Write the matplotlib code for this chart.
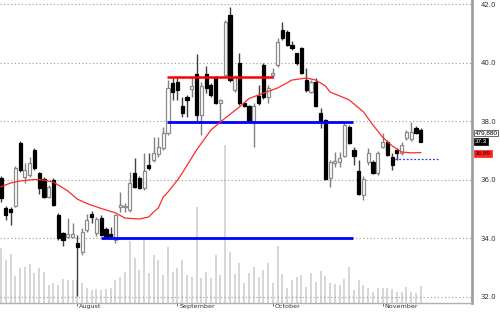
import matplotlib
matplotlib.use('Agg')
import matplotlib.pyplot as plt
from matplotlib.transforms import blended_transform_factory

# ---- data ----
opens = [36.05, 35.03, 34.99, 35.09, 37.25, 36.09, 36.15, 37.01, 36.22, 36.02,
         35.40, 35.98, 34.79, 34.17, 34.03, 34.03, 33.83, 33.52, 34.27, 34.82,
         34.17, 34.68, 34.31, 34.14, 33.93, 35.06, 35.05, 34.96, 36.22, 36.05,
         35.71, 36.50, 36.67, 36.87, 37.08, 37.59, 39.30, 39.33, 38.51, 38.82,
         39.09, 39.61, 38.21, 39.61, 39.23, 39.50, 38.62, 39.57, 41.62, 39.06,
         39.98, 38.62, 38.51, 38.00, 38.86, 39.91, 38.82, 39.57, 39.91, 41.11,
         41.04, 40.60, 40.33, 40.50, 39.40, 38.99, 39.33, 38.27, 38.03, 36.05,
         36.56, 36.60, 36.80, 37.80, 37.01, 36.29, 35.47, 36.60, 36.60, 36.22,
         37.11, 37.28, 36.77, 37.01, 36.91, 37.42, 37.39, 37.76, 37.69]
highs = [36.12, 35.09, 35.06, 36.46, 37.32, 36.56, 36.77, 37.08, 36.26, 36.09,
         35.81, 36.05, 34.86, 34.20, 34.68, 34.51, 34.10, 34.34, 34.82, 34.92,
         34.72, 34.79, 34.37, 34.37, 34.82, 35.57, 35.20, 36.26, 36.74, 36.12,
         36.91, 36.91, 37.45, 37.45, 37.80, 39.40, 39.47, 39.50, 38.82, 38.89,
         39.50, 40.29, 39.33, 39.88, 39.30, 39.54, 38.75, 41.45, 41.90, 39.57,
         40.33, 38.65, 38.55, 38.62, 39.23, 39.98, 39.23, 39.81, 40.84, 41.39,
         41.11, 40.74, 40.33, 40.53, 39.81, 39.40, 39.47, 38.44, 38.07, 36.67,
         36.94, 36.94, 37.93, 37.86, 37.11, 36.67, 36.12, 37.08, 36.67, 36.97,
         37.59, 37.35, 36.91, 37.08, 37.28, 37.69, 37.97, 37.83, 37.76]
lows = [35.23, 34.62, 34.43, 35.06, 36.26, 35.88, 36.09, 36.32, 35.50, 35.37,
        35.37, 35.09, 33.93, 33.73, 34.00, 34.00, 32.02, 33.42, 34.20, 34.51,
        34.07, 34.07, 34.00, 34.00, 33.83, 34.89, 34.89, 34.89, 35.71, 35.68,
        35.64, 36.32, 36.60, 36.77, 37.01, 37.52, 38.72, 38.72, 38.14, 38.14,
        38.82, 37.97, 37.52, 38.96, 38.82, 38.58, 37.97, 39.50, 39.33, 38.99,
        38.55, 38.48, 37.97, 37.11, 38.55, 38.75, 38.62, 39.47, 39.85, 40.77,
        40.56, 40.43, 39.91, 39.61, 38.99, 38.96, 38.48, 37.76, 35.98, 35.74,
        36.43, 36.43, 36.77, 37.21, 36.50, 35.47, 35.30, 36.50, 36.19, 36.15,
        37.08, 36.80, 36.32, 36.67, 36.84, 37.35, 37.32, 37.56, 37.28]
closes = [35.37, 34.79, 34.89, 36.39, 36.32, 36.32, 36.56, 36.39, 35.71, 35.40,
          35.74, 35.13, 34.00, 33.93, 34.14, 34.14, 33.69, 34.20, 34.62, 34.72,
          34.65, 34.10, 34.03, 34.07, 34.79, 35.13, 35.09, 35.88, 35.74, 35.71,
          36.29, 36.39, 36.91, 37.11, 37.59, 39.13, 38.99, 39.06, 38.27, 38.72,
          39.20, 38.21, 39.20, 39.13, 38.89, 38.62, 38.72, 41.39, 39.40, 39.50,
          38.62, 38.51, 38.00, 38.51, 38.62, 38.82, 39.13, 39.64, 40.70, 40.84,
          40.60, 40.50, 39.98, 39.64, 39.06, 39.33, 38.51, 37.97, 36.02, 36.60,
          36.63, 36.74, 37.86, 37.25, 36.80, 35.50, 36.02, 36.91, 36.22, 36.91,
          37.28, 36.84, 36.50, 36.91, 37.18, 37.62, 37.62, 37.59, 37.28]
volumes = [1543000, 1213000, 1373000, 761000, 979000, 1024000, 1100000, 838000, 979000, 883000,
           508000, 556000, 508000, 668000, 649000, 649000, 649000, 556000, 415000, 367000,
           386000,
           367000, 386000, 415000, 649000, 742000, 883000, 1757000, 1261000, 931000, 1870000,
           838000, 1354000, 1213000, 790000, 1588000, 883000, 979000, 1213000, 790000, 742000,
           2699000, 697000, 883000, 697000, 1354000, 790000, 4456000, 1447000, 818000, 1120000,
           556000, 838000, 1007000, 725000, 931000, 1120000, 556000, 1607000, 818000, 415000,
           649000, 742000, 790000, 443000, 854000, 601000, 911000, 761000, 572000, 536000,
           508000, 668000, 1007000, 367000, 649000, 508000, 415000, 319000, 415000, 415000,
           415000, 386000, 319000, 319000, 460000, 319000, 290000, 479880]

ma_idx = [0, 2, 4, 7, 9, 11, 12, 14, 16, 18, 21, 24, 26, 29, 31, 32, 33, 34, 35, 37,
          38, 41, 44, 47, 50, 52, 54, 58, 61, 64, 66, 68, 69, 72, 73, 76, 78, 80, 82,
          84, 86, 88]
ma_val = [35.75, 35.88, 35.95, 36.00, 35.98, 35.91, 35.81, 35.61, 35.33, 35.18, 35.01,
          34.86, 34.68, 34.65, 34.72, 34.89, 35.03, 35.40, 35.57, 35.98, 36.22, 37.01,
          37.69, 38.10, 38.48, 38.77, 38.89, 39.13, 39.40, 39.47, 39.40, 39.20, 38.99,
          38.79, 38.72, 38.31, 37.86, 37.45, 37.15, 36.94, 36.91, 36.92]

months = ["August", "September", "October", "November"]
month_idx = [16, 37, 57, 80]

price_ticks = [32.0, 34.0, 36.0, 38.0, 40.0, 42.0]

# horizontal support/resistance lines: (start index, end index, price)
red_lines = [(34.8, 57.0, 39.51)]
blue_lines = [(34.8, 73.8, 37.98), (21.0, 73.8, 34.00)]
blue_dotted = [(82.6, 92.0, 36.70)]

last_volume_label = "479,880"
last_close_label = "37.3"
last_ma_label = "36.89"
last_close = 37.3
last_ma = 36.89

# ---- figure ----
fig = plt.figure(figsize=(5.0, 3.12), dpi=100)
pos = [0.0, 9 / 312, 472 / 500, 303 / 312]
axv = fig.add_axes(pos)
ax = fig.add_axes(pos)
ax.patch.set_alpha(0)

n = len(closes)
xs = list(range(n))
xlim = (-0.21, 98.75)

# volume
axv.vlines(xs, 0, volumes, colors='#d0d0d0', linewidth=1.2)
axv.set_xlim(*xlim)
axv.set_ylim(0, 8.55e6)
axv.axis('off')

# grid
for t in price_ticks:
    ax.axhline(t, color='#9a9a9a', linewidth=0.8, linestyle=(0, (1, 2.2)), zorder=1)

# horizontal lines
for s, e, p in red_lines:
    ax.plot([s, e], [p, p], color='#ff0000', linewidth=1.8, zorder=4, solid_capstyle='butt')
for s, e, p in blue_lines:
    ax.plot([s, e], [p, p], color='#0000ff', linewidth=2.0, zorder=4, solid_capstyle='butt')
for s, e, p in blue_dotted:
    ax.plot([s, e], [p, p], color='#3030ff', linewidth=0.9, linestyle=(0, (1.5, 1.5)), zorder=4)

# candles
up = [c >= o for o, c in zip(opens, closes)]
wick_cols = ['#808080' if u else '#404040' for u in up]
ax.vlines(xs, lows, highs, colors=wick_cols, linewidth=1.0, zorder=2)
bottoms = [min(o, c) for o, c in zip(opens, closes)]
heights = [max(abs(c - o), 0.03) for o, c in zip(opens, closes)]
ax.bar(xs, heights, bottom=bottoms, width=0.66,
       color=['white' if u else 'black' for u in up],
       edgecolor=['#8a8a8a' if u else 'black' for u in up],
       linewidth=0.9, zorder=3)

# moving average
ax.plot(ma_idx, ma_val, color='#ff2a2a', linewidth=0.9, zorder=5)

ax.set_xlim(*xlim)
ax.set_ylim(31.778, 42.137)

for side in ['left', 'top']:
    ax.spines[side].set_visible(False)
ax.spines['right'].set_color('#a0a0a0')
ax.spines['right'].set_linewidth(2)
ax.spines['bottom'].set_color('#b0b0b0')
ax.spines['bottom'].set_linewidth(1)

ax.yaxis.tick_right()
ax.set_yticks(price_ticks)
ax.set_yticklabels([f"{t:.1f}" for t in price_ticks])
ax.tick_params(axis='y', length=0, pad=6, labelsize=5, labelcolor='#303030')

ax.set_xticks(month_idx)
ax.set_xticklabels([])
ax.tick_params(axis='x', length=2.5, width=0.6, color='#505050', direction='out')
trans_x = blended_transform_factory(ax.transData, ax.transAxes)
for m, i in zip(months, month_idx):
    ax.annotate(m, xy=(i, 0), xycoords=trans_x, xytext=(1.2, -1.0),
                textcoords='offset points', ha='left', va='top', fontsize=4.6,
                color='#303030', annotation_clip=False)

# last-value labels at right
trans_y = blended_transform_factory(ax.transAxes, ax.transData)
lab_font = ['Liberation Sans', 'DejaVu Sans']
ax.text(1.006, last_close + 0.3, last_volume_label, transform=trans_y, fontsize=4.6,
        family=lab_font, va='center', ha='left', color='black', clip_on=False,
        bbox=dict(boxstyle='square,pad=0.1', fc='white', ec='#333333', lw=0.5))
ax.text(1.006, last_close, last_close_label, transform=trans_y, fontsize=4.6,
        family=lab_font, va='center', ha='left', color='white', clip_on=False,
        bbox=dict(boxstyle='square,pad=0.15', fc='black', ec='black', lw=0.5))
ax.text(1.006, last_ma, last_ma_label, transform=trans_y, fontsize=4.6,
        family=lab_font, va='center', ha='left', color='#300000', clip_on=False,
        bbox=dict(boxstyle='square,pad=0.15', fc='#ff2020', ec='#ff2020', lw=0.5))

fig.savefig('out.png', dpi=100)
